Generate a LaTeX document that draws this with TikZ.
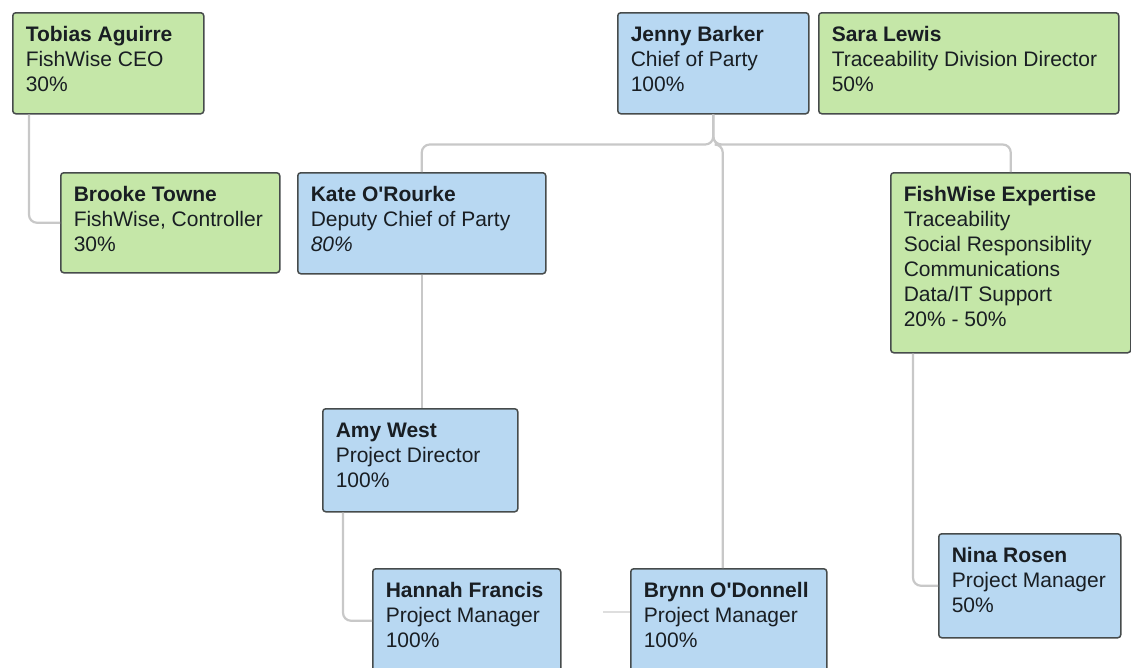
\documentclass[tikz,border=0pt]{standalone}
\usepackage{fontspec}
\setmainfont{Liberation Sans}
\definecolor{bluefill}{RGB}{184,216,242}
\definecolor{greenfill}{RGB}{197,231,168}
\definecolor{edgecol}{RGB}{70,75,75}
\definecolor{conn}{RGB}{200,200,200}
\definecolor{txt}{RGB}{25,30,35}
\newcommand\cardbody[3]{\parbox[c][#2][t]{#1}{\vspace*{11.5pt}\begin{tabular}[t]{@{}l@{}}#3\end{tabular}}}
\tikzset{
  card/.style={draw=edgecol, line width=1.5pt, rounded corners=3pt, inner xsep=13pt, inner ysep=0pt,
    anchor=north west, text=txt, font=\fontsize{21}{25}\selectfont},
  bluecard/.style={card, fill=bluefill},
  greencard/.style={card, fill=greenfill},
  link/.style={draw=conn, line width=2.2pt, rounded corners=8pt},
}
\begin{document}
\begin{tikzpicture}[x=1pt,y=-1pt]
\useasboundingbox (0,0) rectangle (1131,667);
\node[greencard] (tobias) at (12,12) {\cardbody{165pt}{101pt}{\textbf{Tobias Aguirre}\\FishWise CEO\\30\%}};
\node[greencard] (brooke) at (60,172) {\cardbody{193pt}{100pt}{\textbf{Brooke Towne}\\FishWise, Controller\\30\%}};
\node[bluecard] (jenny) at (617,12) {\cardbody{165pt}{101pt}{\textbf{Jenny Barker}\\Chief of Party\\100\%}};
\node[greencard] (sara) at (818,12) {\cardbody{274pt}{101pt}{\textbf{Sara Lewis}\\Traceability Division Director\\50\%}};
\node[bluecard] (kate) at (297,172) {\cardbody{222pt}{101pt}{\textbf{Kate O\textquotesingle Rourke}\\Deputy Chief of Party\\\textit{80\%}}};
\node[greencard] (fwe) at (890,172) {\cardbody{214pt}{180pt}{\textbf{FishWise Expertise}\\Traceability\\Social Responsiblity\\Communications\\Data/IT Support\\20\% - 50\%}};
\node[bluecard] (amy) at (322,408) {\cardbody{169pt}{103pt}{\textbf{Amy West}\\Project Director\\100\%}};
\node[bluecard] (hannah) at (372,568) {\cardbody{162pt}{104pt}{\textbf{Hannah Francis}\\Project Manager\\100\%}};
\node[bluecard] (brynn) at (630,568) {\cardbody{170pt}{104pt}{\textbf{Brynn O\textquotesingle Donnell}\\Project Manager\\100\%}};
\node[bluecard] (nina) at (938,533) {\cardbody{156pt}{104pt}{\textbf{Nina Rosen}\\Project Manager\\50\%}};

\draw[link] (jenny.south) -- ++(0,30) -| (kate.north);
\draw[link] (jenny.south) -- ++(0,30) -| ([xshift=-6pt]brynn.north);
\draw[link] (jenny.south) -- ++(0,30) -| (fwe.north);
\draw[link] (kate.south) -- (kate.south |- amy.north);
\draw[link] ([xshift=17pt]tobias.south west) |- (brooke.west);
\draw[link] ([xshift=21pt]amy.south west) |- (hannah.west);
\draw[link] ([xshift=23pt]fwe.south west) |- (nina.west);
\coordinate (stub) at (603,612);
\draw[link, draw=conn!60] (stub) -- (stub -| brynn.west);
\end{tikzpicture}
\end{document}
